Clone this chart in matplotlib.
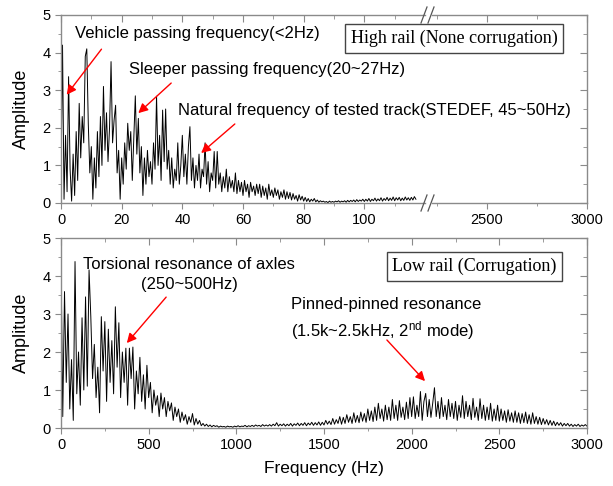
import numpy as np
import matplotlib
matplotlib.use("Agg")
import matplotlib.pyplot as plt
from matplotlib.ticker import MultipleLocator, FixedLocator

plt.rcParams['font.family'] = ['Liberation Sans', 'DejaVu Sans']
plt.rcParams['mathtext.default'] = 'regular'

# High rail spectrum, 0.5 Hz steps from 0 to 117 Hz
high_amp = [
    0.5, 4.2, 0.1, 1.8, 0.3, 3.36, 0.9, 0.05, 1.3, 0.2,
    1.9, 0.6, 2.65, 1.2, 2.3, 1.6, 3.9, 4.1, 2.1, 0.8,
    1.5, 0.1, 1.2, 0.4, 1.9, 0.7, 2.3, 1.0, 3.1, 1.4,
    2.4, 1.1, 2.0, 3.76, 1.6, 2.2, 2.6, 0.8, 1.4, 0.1,
    1.2, 0.5, 1.6, 0.9, 2.12, 1.4, 1.9, 0.6, 1.7, 2.85,
    1.3, 2.25, 0.8, 1.5, 0.2, 1.2, 0.5, 1.4, 0.7, 1.1,
    0.5, 1.6, 0.9, 2.84, 1.0, 1.8, 0.6, 2.47, 1.1, 2.5,
    0.9, 1.4, 0.5, 1.2, 0.4, 0.9, 0.6, 1.6, 0.5, 1.0,
    1.8, 0.7, 1.3, 0.5, 1.5, 2.03, 0.6, 1.2, 0.4, 1.0,
    0.6, 1.3, 0.4, 0.9, 0.7, 1.6, 0.5, 1.1, 0.3, 0.8,
    0.6, 1.37, 0.4, 1.37, 0.5, 0.8, 0.3, 0.7, 0.4, 0.9,
    0.3, 0.7, 0.4, 0.6, 0.3, 0.8, 0.25, 0.6, 0.3, 0.55,
    0.2, 0.6, 0.3, 0.5, 0.15, 0.55, 0.3, 0.45, 0.2, 0.5,
    0.25, 0.5, 0.15, 0.45, 0.2, 0.4, 0.1, 0.5, 0.2, 0.35,
    0.15, 0.4, 0.2, 0.35, 0.1, 0.3, 0.15, 0.35, 0.1, 0.3,
    0.12, 0.28, 0.08, 0.25, 0.1, 0.2, 0.05, 0.22, 0.08, 0.18,
    0.05, 0.15, 0.04, 0.12, 0.03, 0.1, 0.05, 0.12, 0.03, 0.08,
    0.02, 0.06, 0.03, 0.05, 0.02, 0.04, 0.01, 0.05, 0.02, 0.04,
    0.02, 0.05, 0.03, 0.06, 0.02, 0.05, 0.03, 0.06, 0.02, 0.07,
    0.03, 0.07, 0.04, 0.08, 0.03, 0.09, 0.04, 0.08, 0.05, 0.1,
    0.04, 0.1, 0.05, 0.12, 0.04, 0.1, 0.06, 0.13, 0.05, 0.11,
    0.06, 0.14, 0.05, 0.12, 0.07, 0.15, 0.06, 0.13, 0.07, 0.16,
    0.06, 0.14, 0.08, 0.15, 0.06, 0.13, 0.07, 0.16, 0.08, 0.14,
    0.07, 0.15, 0.08, 0.17, 0.1,
]
high_freq = np.arange(len(high_amp)) * 0.5

# Low rail spectrum, 10 Hz steps from 0 to 3000 Hz
low_amp = [
    4.47, 0.3, 3.59, 1.2, 3.0, 0.5, 1.8, 0.2, 4.38, 0.9,
    2.0, 0.6, 2.9, 1.0, 3.45, 1.1, 4.16, 2.93, 1.3, 2.2,
    0.8, 1.6, 0.4, 2.93, 1.5, 2.8, 0.7, 2.6, 1.2, 2.3,
    0.9, 3.19, 1.6, 2.77, 0.8, 2.0, 1.2, 2.1, 0.6, 2.1,
    1.3, 2.13, 0.5, 1.5, 0.9, 1.86, 0.7, 1.4, 0.5, 1.65,
    0.8, 1.2, 0.4, 1.0, 0.6, 0.85, 0.3, 0.92, 0.5, 0.8,
    0.3, 0.7, 0.45, 0.66, 0.2, 0.55, 0.3, 0.5, 0.15, 0.42,
    0.2, 0.35, 0.1, 0.3, 0.15, 0.38, 0.08, 0.25, 0.1, 0.2,
    0.06, 0.12, 0.05, 0.1, 0.04, 0.08, 0.03, 0.07, 0.04, 0.06,
    0.02, 0.05, 0.03, 0.04, 0.02, 0.05, 0.03, 0.04, 0.02, 0.05,
    0.03, 0.06, 0.03, 0.05, 0.04, 0.07, 0.03, 0.06, 0.04, 0.07,
    0.04, 0.08, 0.05, 0.07, 0.04, 0.09, 0.05, 0.08, 0.05, 0.09,
    0.05, 0.1, 0.06, 0.14, 0.05, 0.1, 0.06, 0.11, 0.05, 0.1,
    0.06, 0.12, 0.05, 0.11, 0.07, 0.13, 0.06, 0.12, 0.07, 0.14,
    0.06, 0.13, 0.08, 0.15, 0.07, 0.14, 0.08, 0.16, 0.07, 0.15,
    0.08, 0.2, 0.1, 0.18, 0.09, 0.25, 0.1, 0.22, 0.12, 0.3,
    0.1, 0.28, 0.12, 0.35, 0.15, 0.3, 0.12, 0.4, 0.15, 0.33,
    0.14, 0.42, 0.18, 0.38, 0.15, 0.5, 0.2, 0.45, 0.17, 0.55,
    0.2, 0.65, 0.25, 0.5, 0.18, 0.6, 0.22, 0.55, 0.2, 0.75,
    0.25, 0.6, 0.2, 0.72, 0.28, 0.55, 0.22, 0.68, 0.25, 0.8,
    0.3, 0.82, 0.25, 0.6, 0.3, 0.96, 0.2, 0.7, 0.91, 0.3,
    0.75, 0.28, 0.65, 1.06, 0.3, 0.7, 0.25, 0.8, 0.3, 0.6,
    0.22, 0.75, 0.3, 0.65, 0.25, 0.7, 0.2, 0.6, 0.28, 0.85,
    0.25, 0.7, 0.3, 0.6, 0.22, 0.78, 0.28, 0.55, 0.2, 0.77,
    0.25, 0.6, 0.2, 0.55, 0.22, 0.65, 0.18, 0.5, 0.2, 0.6,
    0.18, 0.5, 0.2, 0.45, 0.15, 0.48, 0.18, 0.4, 0.15, 0.45,
    0.15, 0.4, 0.12, 0.38, 0.14, 0.42, 0.12, 0.35, 0.1, 0.4,
    0.12, 0.3, 0.1, 0.28, 0.09, 0.25, 0.1, 0.22, 0.08, 0.2,
    0.07, 0.18, 0.06, 0.15, 0.07, 0.14, 0.05, 0.12, 0.06, 0.12,
    0.05, 0.1, 0.04, 0.09, 0.05, 0.1, 0.04, 0.08, 0.05, 0.09,
    0.05,
]
low_freq = np.arange(len(low_amp)) * 10.0

spine_col = '#8a8a8a'
W, H = 613, 486


def px(x0, y0, x1, y1):
    # pixel box (left, top, right, bottom) -> figure fraction rect
    return [x0 / W, 1 - y1 / H, (x1 - x0) / W, (y1 - y0) / H]


def style(ax, xmaj, xmin, left=True, right=True):
    for s in ax.spines.values():
        s.set_color(spine_col)
        s.set_linewidth(1.0)
    ax.spines['left'].set_visible(left)
    ax.spines['right'].set_visible(right)
    ax.set_ylim(0, 5)
    ax.xaxis.set_major_locator(FixedLocator(xmaj))
    ax.xaxis.set_minor_locator(FixedLocator(xmin))
    ax.yaxis.set_major_locator(MultipleLocator(1))
    ax.yaxis.set_minor_locator(MultipleLocator(0.5))
    ax.tick_params(which='both', direction='out', color=spine_col, labelsize=10.5,
                   left=left, labelleft=left, right=False)
    ax.tick_params(which='major', length=4)
    ax.tick_params(which='minor', length=2.5)
    # mirrored ticks pointing inward on top
    top = ax.secondary_xaxis('top')
    top.xaxis.set_major_locator(FixedLocator(xmaj))
    top.xaxis.set_minor_locator(FixedLocator(xmin))
    top.tick_params(which='both', direction='in', color=spine_col, labeltop=False)
    top.tick_params(which='major', length=5)
    top.tick_params(which='minor', length=3)
    top.spines['top'].set_visible(False)
    if right:
        r = ax.secondary_yaxis('right')
        r.yaxis.set_major_locator(MultipleLocator(1))
        r.yaxis.set_minor_locator(MultipleLocator(0.5))
        r.tick_params(which='both', direction='in', color=spine_col, labelright=False)
        r.tick_params(which='major', length=5)
        r.tick_params(which='minor', length=3)
        r.spines['right'].set_visible(False)


fig = plt.figure(figsize=(6.13, 4.86), dpi=100)

# top panel: broken x axis
ax1 = fig.add_axes(px(61, 15, 425, 203))
ax1b = fig.add_axes(px(432, 15, 587, 203))
ax1.plot(high_freq, high_amp, color='black', lw=0.7)
ax1.set_xlim(0, 120)
ax1b.set_xlim(2225, 3000)
style(ax1, [0, 20, 40, 60, 80, 100], [10, 30, 50, 70, 90, 110], left=True, right=False)
style(ax1b, [2500, 3000], [2250, 2750], left=False, right=True)
ax1b.patch.set_visible(False)
ax1.set_ylabel('Amplitude', fontsize=13, labelpad=9)

# bottom panel
ax2 = fig.add_axes(px(61, 238, 587, 428))
ax2.plot(low_freq, low_amp, color='black', lw=0.7)
ax2.set_xlim(0, 3000)
style(ax2, [0, 500, 1000, 1500, 2000, 2500, 3000],
      [250, 750, 1250, 1750, 2250, 2750])
ax2.set_ylabel('Amplitude', fontsize=13, labelpad=9)
ax2.set_xlabel('Frequency (Hz)', fontsize=12.5, labelpad=6)

# break marks
for yb in (15, 203):
    for xb in (424, 431):
        fig.add_artist(plt.Line2D([(xb - 3) / W, (xb + 3) / W],
                                  [1 - (yb + 8) / H, 1 - (yb - 8) / H],
                                  color='#555555', lw=0.9))

arrow = dict(arrowstyle='-|>', color='red', lw=1.0, mutation_scale=14)
fs = 12

ax1.annotate('', xy=(1.3, 2.82), xytext=(13.9, 4.15), arrowprops=arrow)
ax1.annotate('', xy=(24.8, 2.34), xytext=(37, 3.24), arrowprops=arrow)
ax1.annotate('', xy=(45.5, 1.28), xytext=(58, 2.15), arrowprops=arrow)
ax1.text(4.6, 4.52, 'Vehicle passing frequency(<2Hz)', fontsize=fs, va='center')
ax1.text(22.4, 3.54, 'Sleeper passing frequency(20~27Hz)', fontsize=fs, va='center')
ax1.text(38.6, 2.45, 'Natural frequency of tested track(STEDEF, 45~50Hz)',
         fontsize=fs, va='center')

ax2.annotate('', xy=(365, 2.18), xytext=(610, 3.5), arrowprops=arrow)
ax2.annotate('', xy=(2087, 1.18), xytext=(1848, 2.37), arrowprops=arrow)
ax2.text(730, 4.05, 'Torsional resonance of axles\n(250~500Hz)', fontsize=fs,
         ha='center', va='center', multialignment='center', linespacing=1.4)
ax2.text(1310, 2.85, 'Pinned-pinned resonance\n(1.5k~2.5kHz, 2$^{nd}$ mode)',
         fontsize=fs, ha='left', va='center', linespacing=1.4)

box = dict(boxstyle='square,pad=0.3', fc='white', ec='#444444', lw=1.0)
fig.text(454 / W, 1 - 38.5 / H, 'High rail (None corrugation)', fontsize=13,
         family='Liberation Serif', ha='center', va='center', bbox=box)
fig.text(474.5 / W, 1 - 266.5 / H, 'Low rail (Corrugation)', fontsize=13,
         family='Liberation Serif', ha='center', va='center', bbox=box)

fig.savefig('out.png', dpi=100)
